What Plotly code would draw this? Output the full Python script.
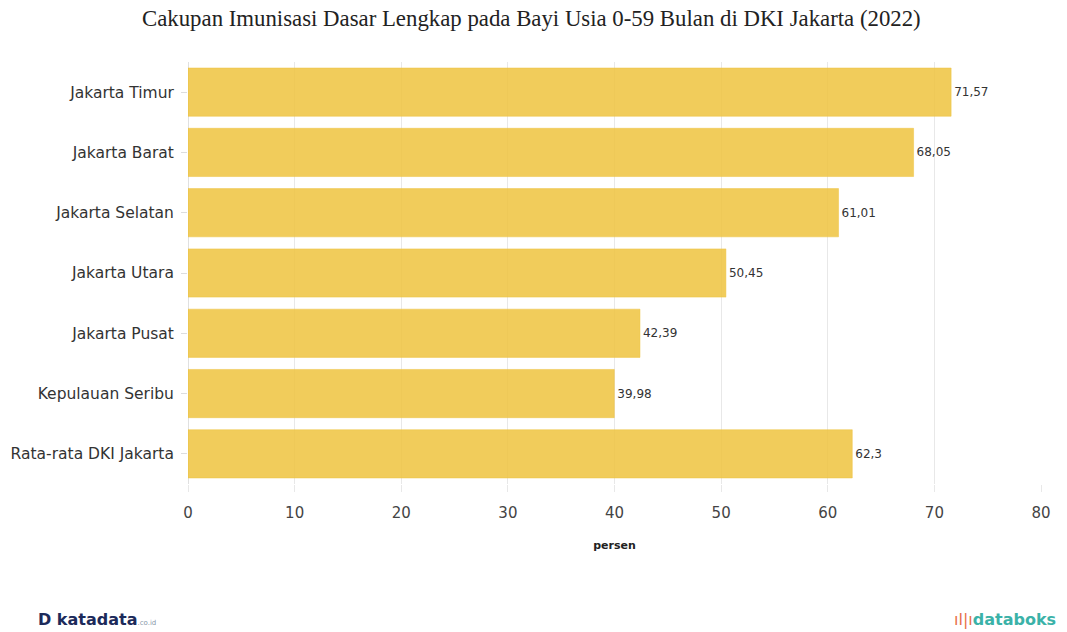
import plotly.graph_objects as go

categories = ["Jakarta Timur", "Jakarta Barat", "Jakarta Selatan", "Jakarta Utara",
              "Jakarta Pusat", "Kepulauan Seribu", "Rata-rata DKI Jakarta"]
values = [71.57, 68.05, 61.01, 50.45, 42.39, 39.98, 62.3]
labels = ["71,57", "68,05", "61,01", "50,45", "42,39", "39,98", "62,3"]
x_ticks = [0, 10, 20, 30, 40, 50, 60, 70, 80]

fig = go.Figure(go.Bar(
    x=values, y=categories, orientation="h",
    marker=dict(color="rgba(239,196,64,0.86)", line=dict(color="rgba(239,196,64,0.5)", width=1)),
    text=labels, textposition="outside", cliponaxis=False,
    textfont=dict(family="DejaVu Sans", size=12, color="#333333"),
))

fig.update_layout(
    width=1067, height=632,
    margin=dict(l=188, r=26, t=62, b=148),
    paper_bgcolor="white", plot_bgcolor="white",
    bargap=0.2,
    showlegend=False,
    title=dict(text="Cakupan Imunisasi Dasar Lengkap pada Bayi Usia 0-59 Bulan di DKI Jakarta (2022)",
               x=0.498, xref="container", xanchor="center", y=0.972, yref="container", yanchor="middle",
               font=dict(family="Liberation Serif", size=22.8, color="#222222")),
    xaxis=dict(range=[0, 80], tickvals=x_ticks, showgrid=True, gridcolor="#e8e8e8",
               zeroline=True, zerolinecolor="#e0e0e0", zerolinewidth=1,
               ticks="outside", ticklen=7, tickcolor="#e8e8e8", ticklabelstandoff=8,
               tickfont=dict(family="DejaVu Sans", size=15, color="#444444"),
               title=dict(text="<b>persen</b>", font=dict(family="DejaVu Sans", size=11, color="#222222"), standoff=20)),
    yaxis=dict(autorange="reversed", ticks="outside", ticklen=6, tickcolor="#dddddd",
               tickfont=dict(family="DejaVu Sans", size=15.5, color="#333333"), ticklabelstandoff=4),
)

fig.add_annotation(x=-0.178, y=-0.322, xref="paper", yref="paper", xanchor="left", yanchor="middle",
                   text="<b>D katadata</b><span style='font-size:7px;color:#8899aa'>.co.id</span>",
                   showarrow=False, font=dict(family="DejaVu Sans", size=16, color="#1c2a5a"))
fig.add_annotation(x=1.02, y=-0.322, xref="paper", yref="paper", xanchor="right", yanchor="middle",
                   text="<span style='color:#e8704a'>ıl|ı</span><b>databoks</b>",
                   showarrow=False, font=dict(family="DejaVu Sans", size=16, color="#3bb2a8"))

fig.write_html("out.html")
